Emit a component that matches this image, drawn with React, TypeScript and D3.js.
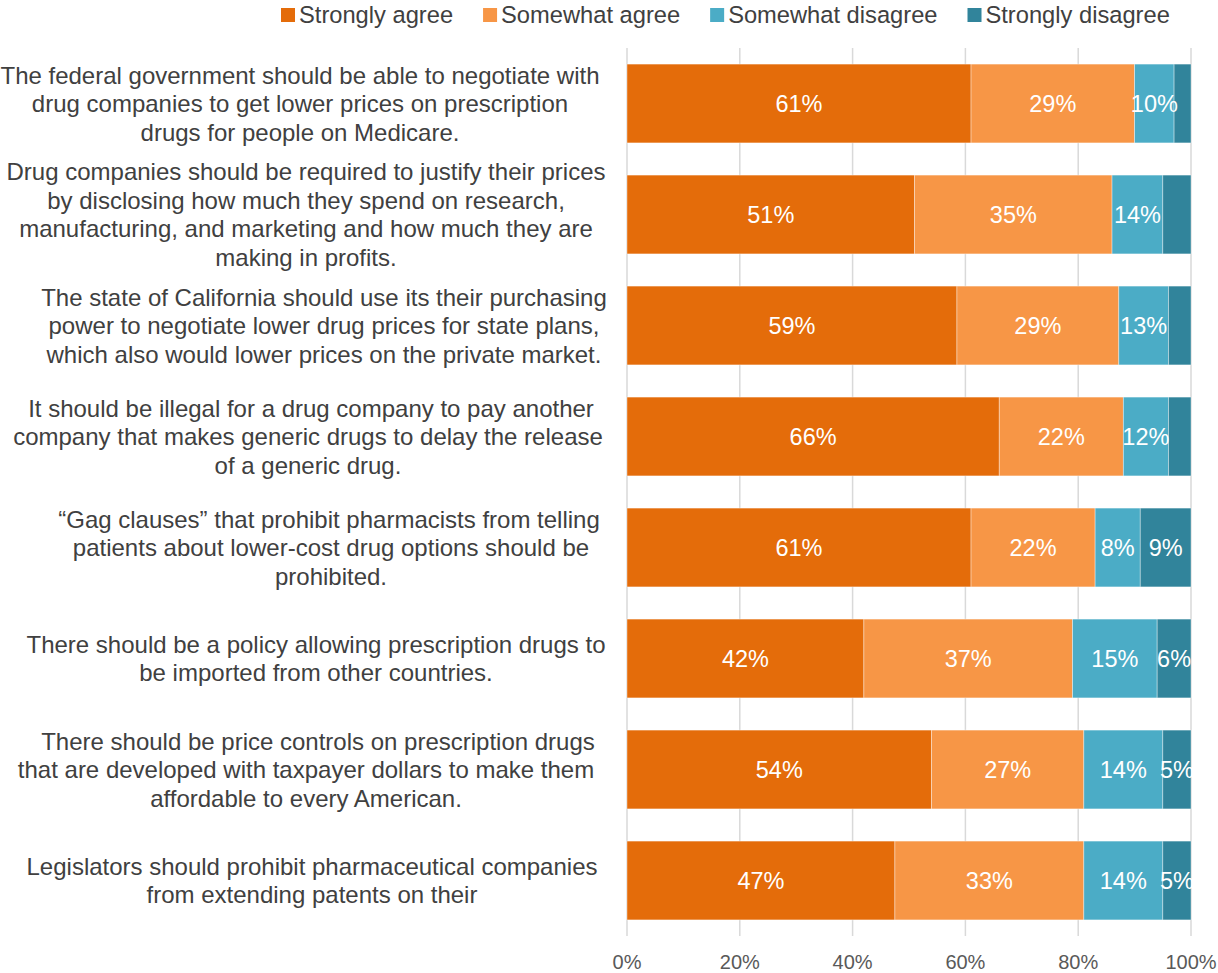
import React from 'react';
import * as d3 from 'd3';

// ---------- data ----------
const categories: string[][] = [
  [
    'The federal government should be able to negotiate with',
    'drug companies to get lower prices on prescription',
    'drugs for people on Medicare.',
  ],
  [
    'Drug companies should be required to justify their prices',
    'by disclosing how much they spend on research,',
    'manufacturing, and marketing and how much they are',
    'making in profits.',
  ],
  [
    'The state of California should use its their purchasing',
    'power to negotiate lower drug prices for state plans,',
    'which also would lower prices on the private market.',
  ],
  [
    'It should be illegal for a drug company to pay another',
    'company that makes generic drugs to delay the release',
    'of a generic drug.',
  ],
  [
    '\u201CGag clauses\u201D that prohibit pharmacists from telling',
    'patients about lower-cost drug options should be',
    'prohibited.',
  ],
  [
    'There should be a policy allowing prescription drugs to',
    'be imported from other countries.',
  ],
  [
    'There should be price controls on prescription drugs',
    'that are developed with taxpayer dollars to make them',
    'affordable to every American.',
  ],
  [
    'Legislators should prohibit pharmaceutical companies',
    'from extending patents on their',
  ],
];

const seriesNames = ['Strongly agree', 'Somewhat agree', 'Somewhat disagree', 'Strongly disagree'];
const seriesColors = ['#E46C0A', '#F79646', '#4BACC6', '#31849B'];

const stronglyAgree = [61, 51, 58.5, 66, 61, 42, 54, 47.5];
const somewhatAgree = [29, 35, 28.7, 22, 22, 37, 27, 33.5];
const somewhatDisagree = [7, 9, 8.8, 8, 8, 15, 14, 14];
const stronglyDisagree = [3, 5, 4, 4, 9, 6, 5, 5];

const labelsStronglyAgree = ['61%', '51%', '59%', '66%', '61%', '42%', '54%', '47%'];
const labelsSomewhatAgree = ['29%', '35%', '29%', '22%', '22%', '37%', '27%', '33%'];
const labelsSomewhatDisagree = ['10%', '14%', '13%', '12%', '8%', '15%', '14%', '14%'];
const labelsStronglyDisagree = ['', '', '', '', '9%', '6%', '5%', '5%'];

const xTicks = [0, 20, 40, 60, 80, 100];

// ---------- layout ----------
const W = 1218;
const H = 973;
const FONT = '"Liberation Sans", Arial, Helvetica, sans-serif';
const plot = { left: 627, right: 1191, top: 48, bottom: 936 };
// horizontal centre of each category label line (text box alignment of the source)
const labelLineCenters: number[][] = [
  [300, 300, 300],
  [306, 306, 306, 306],
  [324, 324, 324],
  [311, 308, 308],
  [329, 331, 331],
  [316, 316],
  [318, 306, 306],
  [312, 312],
];

function measure(text: string, size: number): number {
  if (typeof document === 'undefined') return text.length * size * 0.5;
  const c = document.createElement('canvas');
  const ctx = c.getContext('2d');
  if (!ctx) return text.length * size * 0.5;
  ctx.font = `${size}px "Liberation Sans", Arial, sans-serif`;
  return ctx.measureText(text).width;
}

export default function App() {
  const x = d3.scaleLinear().domain([0, 100]).range([plot.left, plot.right]);
  const idx = categories.map((_, i) => String(i));
  const y = d3
    .scaleBand<string>()
    .domain(idx)
    .range([plot.top, plot.bottom])
    .paddingInner(0.29)
    .paddingOuter(0.145);

  const values = [stronglyAgree, somewhatAgree, somewhatDisagree, stronglyDisagree];
  const labels = [labelsStronglyAgree, labelsSomewhatAgree, labelsSomewhatDisagree, labelsStronglyDisagree];

  const rows = categories.map((_, i) => {
    const obj: Record<string, number> = {};
    seriesNames.forEach((s, k) => (obj[s] = values[k][i]));
    return obj;
  });
  const stacked = d3.stack<Record<string, number>>().keys(seriesNames)(rows);

  // legend layout
  const legendFont = 23.7;
  const sw = 14;
  let lx = 281;
  const legendItems = seriesNames.map((name, k) => {
    const item = { name, color: seriesColors[k], x: lx };
    lx += sw + 4 + measure(name, legendFont) + 30;
    return item;
  });

  const lineH = 28.5;

  return (
    <svg
      width={W}
      height={H}
      viewBox={`0 0 ${W} ${H}`}
      style={{ position: 'absolute', left: 0, top: 0, background: '#fff', fontFamily: FONT }}
    >
      <defs>
        <clipPath id="plotClip">
          <rect x={0} y={0} width={plot.right + 1} height={H} />
        </clipPath>
      </defs>

      {/* legend */}
      <g>
        {legendItems.map((it) => (
          <g key={it.name}>
            <rect x={it.x} y={8} width={sw} height={sw} fill={it.color} />
            <text x={it.x + sw + 4} y={23} fontSize={legendFont} fill="#404040">
              {it.name}
            </text>
          </g>
        ))}
      </g>

      {/* gridlines */}
      <g>
        {xTicks.map((t) => (
          <line
            key={t}
            x1={x(t)}
            x2={x(t)}
            y1={plot.top}
            y2={plot.bottom}
            stroke="#d9d9d9"
            strokeWidth={1.5}
          />
        ))}
      </g>

      {/* bars */}
      <g>
        {stacked.map((layer, k) => (
          <g key={layer.key} fill={seriesColors[k]}>
            {layer.map((d, i) => (
              <rect
                key={i}
                x={x(d[0])}
                y={y(String(i))}
                width={x(d[1]) - x(d[0])}
                height={y.bandwidth()}
                stroke="#ffffff"
                strokeOpacity={0.5}
                strokeWidth={0.75}
              />
            ))}
          </g>
        ))}
      </g>

      {/* bar labels */}
      <g clipPath="url(#plotClip)">
        {stacked.map((layer, k) =>
          layer.map((d, i) =>
            labels[k][i] ? (
              <text
                key={`${k}-${i}`}
                x={(x(d[0]) + x(d[1])) / 2}
                y={(y(String(i)) as number) + y.bandwidth() / 2 + 8.5}
                textAnchor="middle"
                fontSize={23.5}
                fill="#ffffff"
              >
                {labels[k][i]}
              </text>
            ) : null
          )
        )}
      </g>

      {/* category labels */}
      <g>
        {categories.map((lines, i) => {
          const cy = (y(String(i)) as number) + y.bandwidth() / 2;
          const first = cy - ((lines.length - 1) * lineH) / 2;
          return (
            <text key={i} fontSize={24} fill="#404040" textAnchor="middle">
              {lines.map((ln, j) => (
                <tspan key={j} x={labelLineCenters[i][j]} y={first + j * lineH + 8.5}>
                  {ln}
                </tspan>
              ))}
            </text>
          );
        })}
      </g>

      {/* x axis tick labels */}
      <g>
        {xTicks.map((t) => (
          <text key={t} x={x(t)} y={969} textAnchor="middle" fontSize={20} fill="#595959">
            {`${t}%`}
          </text>
        ))}
      </g>
    </svg>
  );
}
